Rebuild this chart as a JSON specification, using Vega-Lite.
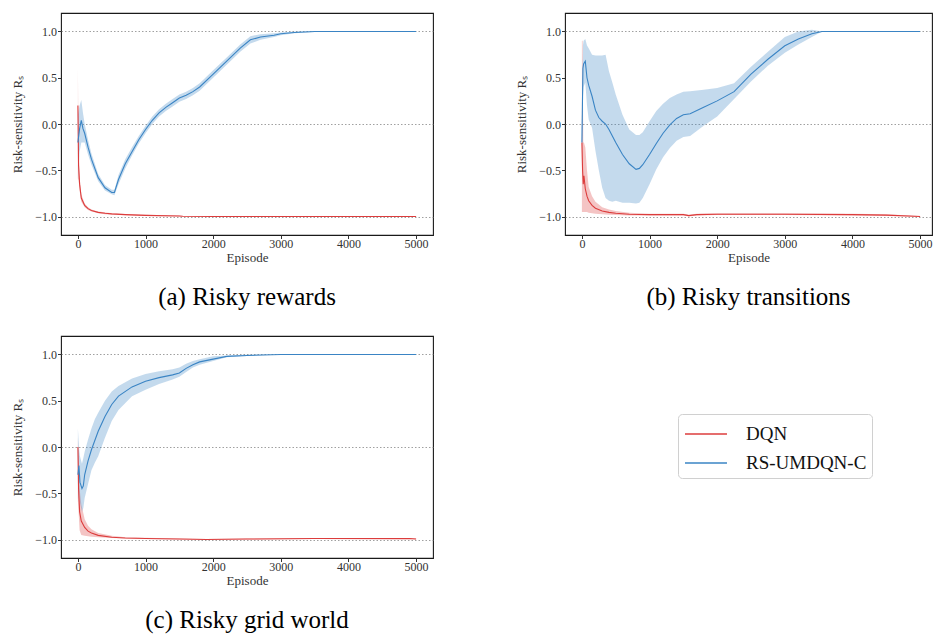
{
  "$schema": "https://vega.github.io/schema/vega-lite/v6.json",
  "padding": {"left": 11, "top": 12, "right": 0, "bottom": 0},
  "background": "white",
  "data": {"values": [
    {"panel":"a","model":"DQN","episode":0,"mean":0.2,"lo":-0.6,"hi":0.6},
    {"panel":"a","model":"DQN","episode":10,"mean":-0.45,"lo":-0.6,"hi":-0.3},
    {"panel":"a","model":"DQN","episode":25,"mean":-0.65,"lo":-0.72,"hi":-0.58},
    {"panel":"a","model":"DQN","episode":50,"mean":-0.8,"lo":-0.84,"hi":-0.76},
    {"panel":"a","model":"DQN","episode":100,"mean":-0.88,"lo":-0.9,"hi":-0.86},
    {"panel":"a","model":"DQN","episode":150,"mean":-0.915,"lo":-0.93,"hi":-0.9},
    {"panel":"a","model":"DQN","episode":200,"mean":-0.935,"lo":-0.945,"hi":-0.925},
    {"panel":"a","model":"DQN","episode":300,"mean":-0.955,"lo":-0.965,"hi":-0.945},
    {"panel":"a","model":"DQN","episode":400,"mean":-0.965,"lo":-0.975,"hi":-0.955},
    {"panel":"a","model":"DQN","episode":500,"mean":-0.972,"lo":-0.98,"hi":-0.964},
    {"panel":"a","model":"DQN","episode":700,"mean":-0.98,"lo":-0.987,"hi":-0.973},
    {"panel":"a","model":"DQN","episode":1000,"mean":-0.988,"lo":-0.994,"hi":-0.982},
    {"panel":"a","model":"DQN","episode":1500,"mean":-0.994,"lo":-0.999,"hi":-0.989},
    {"panel":"a","model":"DQN","episode":1550,"mean":-0.998,"lo":-1.0,"hi":-0.996},
    {"panel":"a","model":"DQN","episode":2000,"mean":-1.0,"lo":-1.0,"hi":-0.998},
    {"panel":"a","model":"DQN","episode":3000,"mean":-1.0,"lo":-1.0,"hi":-0.998},
    {"panel":"a","model":"DQN","episode":4000,"mean":-1.0,"lo":-1.0,"hi":-0.998},
    {"panel":"a","model":"DQN","episode":5000,"mean":-1.0,"lo":-1.0,"hi":-0.998},
    {"panel":"a","model":"RS-UMDQN-C","episode":0,"mean":-0.2,"lo":-0.6,"hi":0.1},
    {"panel":"a","model":"RS-UMDQN-C","episode":25,"mean":-0.05,"lo":-0.3,"hi":0.2},
    {"panel":"a","model":"RS-UMDQN-C","episode":50,"mean":0.04,"lo":-0.2,"hi":0.26},
    {"panel":"a","model":"RS-UMDQN-C","episode":75,"mean":-0.05,"lo":-0.2,"hi":0.12},
    {"panel":"a","model":"RS-UMDQN-C","episode":100,"mean":-0.1,"lo":-0.2,"hi":0.0},
    {"panel":"a","model":"RS-UMDQN-C","episode":150,"mean":-0.25,"lo":-0.33,"hi":-0.17},
    {"panel":"a","model":"RS-UMDQN-C","episode":200,"mean":-0.38,"lo":-0.44,"hi":-0.32},
    {"panel":"a","model":"RS-UMDQN-C","episode":300,"mean":-0.58,"lo":-0.62,"hi":-0.54},
    {"panel":"a","model":"RS-UMDQN-C","episode":400,"mean":-0.69,"lo":-0.72,"hi":-0.66},
    {"panel":"a","model":"RS-UMDQN-C","episode":500,"mean":-0.74,"lo":-0.76,"hi":-0.71},
    {"panel":"a","model":"RS-UMDQN-C","episode":540,"mean":-0.74,"lo":-0.77,"hi":-0.71},
    {"panel":"a","model":"RS-UMDQN-C","episode":600,"mean":-0.6,"lo":-0.65,"hi":-0.55},
    {"panel":"a","model":"RS-UMDQN-C","episode":700,"mean":-0.43,"lo":-0.48,"hi":-0.38},
    {"panel":"a","model":"RS-UMDQN-C","episode":800,"mean":-0.3,"lo":-0.34,"hi":-0.25},
    {"panel":"a","model":"RS-UMDQN-C","episode":900,"mean":-0.17,"lo":-0.21,"hi":-0.13},
    {"panel":"a","model":"RS-UMDQN-C","episode":1000,"mean":-0.06,"lo":-0.1,"hi":-0.02},
    {"panel":"a","model":"RS-UMDQN-C","episode":1100,"mean":0.04,"lo":0.0,"hi":0.08},
    {"panel":"a","model":"RS-UMDQN-C","episode":1200,"mean":0.12,"lo":0.08,"hi":0.16},
    {"panel":"a","model":"RS-UMDQN-C","episode":1300,"mean":0.18,"lo":0.14,"hi":0.22},
    {"panel":"a","model":"RS-UMDQN-C","episode":1400,"mean":0.23,"lo":0.19,"hi":0.27},
    {"panel":"a","model":"RS-UMDQN-C","episode":1500,"mean":0.28,"lo":0.24,"hi":0.32},
    {"panel":"a","model":"RS-UMDQN-C","episode":1600,"mean":0.31,"lo":0.27,"hi":0.35},
    {"panel":"a","model":"RS-UMDQN-C","episode":1700,"mean":0.35,"lo":0.31,"hi":0.39},
    {"panel":"a","model":"RS-UMDQN-C","episode":1800,"mean":0.4,"lo":0.36,"hi":0.44},
    {"panel":"a","model":"RS-UMDQN-C","episode":2000,"mean":0.54,"lo":0.5,"hi":0.58},
    {"panel":"a","model":"RS-UMDQN-C","episode":2200,"mean":0.68,"lo":0.64,"hi":0.72},
    {"panel":"a","model":"RS-UMDQN-C","episode":2400,"mean":0.82,"lo":0.78,"hi":0.86},
    {"panel":"a","model":"RS-UMDQN-C","episode":2550,"mean":0.91,"lo":0.87,"hi":0.95},
    {"panel":"a","model":"RS-UMDQN-C","episode":2700,"mean":0.94,"lo":0.91,"hi":0.97},
    {"panel":"a","model":"RS-UMDQN-C","episode":2900,"mean":0.96,"lo":0.94,"hi":0.98},
    {"panel":"a","model":"RS-UMDQN-C","episode":3000,"mean":0.975,"lo":0.96,"hi":0.99},
    {"panel":"a","model":"RS-UMDQN-C","episode":3200,"mean":0.99,"lo":0.98,"hi":1.0},
    {"panel":"a","model":"RS-UMDQN-C","episode":3500,"mean":1.0,"lo":0.995,"hi":1.0},
    {"panel":"a","model":"RS-UMDQN-C","episode":4000,"mean":1.0,"lo":1.0,"hi":1.0},
    {"panel":"a","model":"RS-UMDQN-C","episode":5000,"mean":1.0,"lo":1.0,"hi":1.0},
    {"panel":"b","model":"DQN","episode":0,"mean":-0.2,"lo":-0.95,"hi":0.9},
    {"panel":"b","model":"DQN","episode":10,"mean":-0.5,"lo":-0.95,"hi":0.9},
    {"panel":"b","model":"DQN","episode":20,"mean":-0.65,"lo":-0.95,"hi":-0.2},
    {"panel":"b","model":"DQN","episode":30,"mean":-0.56,"lo":-0.95,"hi":-0.2},
    {"panel":"b","model":"DQN","episode":50,"mean":-0.7,"lo":-0.95,"hi":-0.25},
    {"panel":"b","model":"DQN","episode":75,"mean":-0.78,"lo":-0.95,"hi":-0.5},
    {"panel":"b","model":"DQN","episode":100,"mean":-0.83,"lo":-0.96,"hi":-0.68},
    {"panel":"b","model":"DQN","episode":150,"mean":-0.88,"lo":-0.965,"hi":-0.78},
    {"panel":"b","model":"DQN","episode":200,"mean":-0.91,"lo":-0.97,"hi":-0.84},
    {"panel":"b","model":"DQN","episode":300,"mean":-0.94,"lo":-0.975,"hi":-0.9},
    {"panel":"b","model":"DQN","episode":400,"mean":-0.955,"lo":-0.98,"hi":-0.925},
    {"panel":"b","model":"DQN","episode":500,"mean":-0.965,"lo":-0.985,"hi":-0.94},
    {"panel":"b","model":"DQN","episode":700,"mean":-0.975,"lo":-0.99,"hi":-0.96},
    {"panel":"b","model":"DQN","episode":1000,"mean":-0.98,"lo":-0.99,"hi":-0.97},
    {"panel":"b","model":"DQN","episode":1500,"mean":-0.98,"lo":-0.99,"hi":-0.97},
    {"panel":"b","model":"DQN","episode":1580,"mean":-0.99,"lo":-1.0,"hi":-0.98},
    {"panel":"b","model":"DQN","episode":1700,"mean":-0.98,"lo":-0.99,"hi":-0.97},
    {"panel":"b","model":"DQN","episode":2000,"mean":-0.975,"lo":-0.985,"hi":-0.965},
    {"panel":"b","model":"DQN","episode":3000,"mean":-0.975,"lo":-0.985,"hi":-0.965},
    {"panel":"b","model":"DQN","episode":4000,"mean":-0.98,"lo":-0.99,"hi":-0.97},
    {"panel":"b","model":"DQN","episode":4500,"mean":-0.985,"lo":-0.995,"hi":-0.975},
    {"panel":"b","model":"DQN","episode":5000,"mean":-1.0,"lo":-1.0,"hi":-0.995},
    {"panel":"b","model":"RS-UMDQN-C","episode":0,"mean":-0.2,"lo":-0.45,"hi":0.05},
    {"panel":"b","model":"RS-UMDQN-C","episode":15,"mean":0.6,"lo":0.3,"hi":0.85},
    {"panel":"b","model":"RS-UMDQN-C","episode":25,"mean":0.65,"lo":0.4,"hi":0.9},
    {"panel":"b","model":"RS-UMDQN-C","episode":50,"mean":0.68,"lo":0.45,"hi":0.92},
    {"panel":"b","model":"RS-UMDQN-C","episode":75,"mean":0.5,"lo":0.2,"hi":0.85},
    {"panel":"b","model":"RS-UMDQN-C","episode":100,"mean":0.42,"lo":0.05,"hi":0.82},
    {"panel":"b","model":"RS-UMDQN-C","episode":150,"mean":0.3,"lo":-0.04,"hi":0.75},
    {"panel":"b","model":"RS-UMDQN-C","episode":200,"mean":0.15,"lo":-0.29,"hi":0.74},
    {"panel":"b","model":"RS-UMDQN-C","episode":250,"mean":0.07,"lo":-0.5,"hi":0.74},
    {"panel":"b","model":"RS-UMDQN-C","episode":300,"mean":0.03,"lo":-0.69,"hi":0.74},
    {"panel":"b","model":"RS-UMDQN-C","episode":350,"mean":0.0,"lo":-0.8,"hi":0.75},
    {"panel":"b","model":"RS-UMDQN-C","episode":400,"mean":-0.06,"lo":-0.83,"hi":0.57},
    {"panel":"b","model":"RS-UMDQN-C","episode":450,"mean":-0.13,"lo":-0.84,"hi":0.45},
    {"panel":"b","model":"RS-UMDQN-C","episode":500,"mean":-0.2,"lo":-0.83,"hi":0.32},
    {"panel":"b","model":"RS-UMDQN-C","episode":600,"mean":-0.33,"lo":-0.85,"hi":0.1},
    {"panel":"b","model":"RS-UMDQN-C","episode":700,"mean":-0.43,"lo":-0.85,"hi":-0.06},
    {"panel":"b","model":"RS-UMDQN-C","episode":800,"mean":-0.49,"lo":-0.86,"hi":-0.12},
    {"panel":"b","model":"RS-UMDQN-C","episode":850,"mean":-0.48,"lo":-0.85,"hi":-0.12},
    {"panel":"b","model":"RS-UMDQN-C","episode":900,"mean":-0.44,"lo":-0.8,"hi":-0.09},
    {"panel":"b","model":"RS-UMDQN-C","episode":1000,"mean":-0.33,"lo":-0.65,"hi":0.03},
    {"panel":"b","model":"RS-UMDQN-C","episode":1100,"mean":-0.21,"lo":-0.49,"hi":0.14},
    {"panel":"b","model":"RS-UMDQN-C","episode":1200,"mean":-0.1,"lo":-0.36,"hi":0.22},
    {"panel":"b","model":"RS-UMDQN-C","episode":1300,"mean":-0.01,"lo":-0.26,"hi":0.28},
    {"panel":"b","model":"RS-UMDQN-C","episode":1400,"mean":0.06,"lo":-0.18,"hi":0.32},
    {"panel":"b","model":"RS-UMDQN-C","episode":1500,"mean":0.1,"lo":-0.14,"hi":0.35},
    {"panel":"b","model":"RS-UMDQN-C","episode":1600,"mean":0.11,"lo":-0.13,"hi":0.355},
    {"panel":"b","model":"RS-UMDQN-C","episode":1800,"mean":0.18,"lo":-0.02,"hi":0.37},
    {"panel":"b","model":"RS-UMDQN-C","episode":2000,"mean":0.25,"lo":0.08,"hi":0.39},
    {"panel":"b","model":"RS-UMDQN-C","episode":2250,"mean":0.35,"lo":0.27,"hi":0.44},
    {"panel":"b","model":"RS-UMDQN-C","episode":2500,"mean":0.54,"lo":0.46,"hi":0.62},
    {"panel":"b","model":"RS-UMDQN-C","episode":2750,"mean":0.7,"lo":0.63,"hi":0.78},
    {"panel":"b","model":"RS-UMDQN-C","episode":3000,"mean":0.845,"lo":0.77,"hi":0.94},
    {"panel":"b","model":"RS-UMDQN-C","episode":3200,"mean":0.92,"lo":0.86,"hi":1.0},
    {"panel":"b","model":"RS-UMDQN-C","episode":3400,"mean":0.975,"lo":0.94,"hi":1.02},
    {"panel":"b","model":"RS-UMDQN-C","episode":3550,"mean":1.0,"lo":1.0,"hi":1.0},
    {"panel":"b","model":"RS-UMDQN-C","episode":4000,"mean":1.0,"lo":1.0,"hi":1.0},
    {"panel":"b","model":"RS-UMDQN-C","episode":5000,"mean":1.0,"lo":1.0,"hi":1.0},
    {"panel":"c","model":"DQN","episode":0,"mean":0.0,"lo":-0.55,"hi":0.1},
    {"panel":"c","model":"DQN","episode":10,"mean":-0.45,"lo":-0.7,"hi":-0.1},
    {"panel":"c","model":"DQN","episode":25,"mean":-0.7,"lo":-0.9,"hi":-0.45},
    {"panel":"c","model":"DQN","episode":50,"mean":-0.8,"lo":-0.95,"hi":-0.62},
    {"panel":"c","model":"DQN","episode":100,"mean":-0.87,"lo":-0.96,"hi":-0.78},
    {"panel":"c","model":"DQN","episode":150,"mean":-0.91,"lo":-0.965,"hi":-0.85},
    {"panel":"c","model":"DQN","episode":200,"mean":-0.93,"lo":-0.97,"hi":-0.89},
    {"panel":"c","model":"DQN","episode":300,"mean":-0.955,"lo":-0.975,"hi":-0.93},
    {"panel":"c","model":"DQN","episode":500,"mean":-0.975,"lo":-0.985,"hi":-0.96},
    {"panel":"c","model":"DQN","episode":700,"mean":-0.983,"lo":-0.99,"hi":-0.975},
    {"panel":"c","model":"DQN","episode":1000,"mean":-0.99,"lo":-0.995,"hi":-0.982},
    {"panel":"c","model":"DQN","episode":1500,"mean":-0.995,"lo":-1.0,"hi":-0.99},
    {"panel":"c","model":"DQN","episode":1900,"mean":-1.0,"lo":-1.0,"hi":-0.995},
    {"panel":"c","model":"DQN","episode":2500,"mean":-0.995,"lo":-1.0,"hi":-0.99},
    {"panel":"c","model":"DQN","episode":3500,"mean":-0.99,"lo":-0.995,"hi":-0.985},
    {"panel":"c","model":"DQN","episode":4900,"mean":-0.99,"lo":-0.995,"hi":-0.985},
    {"panel":"c","model":"DQN","episode":5000,"mean":-0.995,"lo":-1.0,"hi":-0.99},
    {"panel":"c","model":"RS-UMDQN-C","episode":0,"mean":-0.3,"lo":-0.6,"hi":0.2},
    {"panel":"c","model":"RS-UMDQN-C","episode":15,"mean":-0.2,"lo":-0.45,"hi":0.0},
    {"panel":"c","model":"RS-UMDQN-C","episode":30,"mean":-0.38,"lo":-0.6,"hi":-0.1},
    {"panel":"c","model":"RS-UMDQN-C","episode":60,"mean":-0.45,"lo":-0.7,"hi":-0.18},
    {"panel":"c","model":"RS-UMDQN-C","episode":80,"mean":-0.42,"lo":-0.66,"hi":-0.12},
    {"panel":"c","model":"RS-UMDQN-C","episode":100,"mean":-0.3,"lo":-0.55,"hi":-0.05},
    {"panel":"c","model":"RS-UMDQN-C","episode":150,"mean":-0.15,"lo":-0.4,"hi":0.08},
    {"panel":"c","model":"RS-UMDQN-C","episode":200,"mean":-0.03,"lo":-0.25,"hi":0.2},
    {"panel":"c","model":"RS-UMDQN-C","episode":250,"mean":0.07,"lo":-0.17,"hi":0.3},
    {"panel":"c","model":"RS-UMDQN-C","episode":300,"mean":0.17,"lo":-0.1,"hi":0.37},
    {"panel":"c","model":"RS-UMDQN-C","episode":400,"mean":0.33,"lo":0.1,"hi":0.5},
    {"panel":"c","model":"RS-UMDQN-C","episode":500,"mean":0.46,"lo":0.28,"hi":0.6},
    {"panel":"c","model":"RS-UMDQN-C","episode":600,"mean":0.55,"lo":0.4,"hi":0.66},
    {"panel":"c","model":"RS-UMDQN-C","episode":800,"mean":0.65,"lo":0.55,"hi":0.74},
    {"panel":"c","model":"RS-UMDQN-C","episode":1000,"mean":0.71,"lo":0.62,"hi":0.79},
    {"panel":"c","model":"RS-UMDQN-C","episode":1200,"mean":0.75,"lo":0.68,"hi":0.82},
    {"panel":"c","model":"RS-UMDQN-C","episode":1400,"mean":0.78,"lo":0.73,"hi":0.84},
    {"panel":"c","model":"RS-UMDQN-C","episode":1500,"mean":0.8,"lo":0.76,"hi":0.86},
    {"panel":"c","model":"RS-UMDQN-C","episode":1600,"mean":0.85,"lo":0.81,"hi":0.9},
    {"panel":"c","model":"RS-UMDQN-C","episode":1700,"mean":0.89,"lo":0.86,"hi":0.93},
    {"panel":"c","model":"RS-UMDQN-C","episode":1800,"mean":0.92,"lo":0.89,"hi":0.95},
    {"panel":"c","model":"RS-UMDQN-C","episode":2000,"mean":0.95,"lo":0.93,"hi":0.98},
    {"panel":"c","model":"RS-UMDQN-C","episode":2200,"mean":0.98,"lo":0.97,"hi":0.99},
    {"panel":"c","model":"RS-UMDQN-C","episode":2500,"mean":0.99,"lo":0.985,"hi":1.0},
    {"panel":"c","model":"RS-UMDQN-C","episode":3000,"mean":1.0,"lo":1.0,"hi":1.0},
    {"panel":"c","model":"RS-UMDQN-C","episode":5000,"mean":1.0,"lo":1.0,"hi":1.0}
  ]},
  "columns": 2,
  "spacing": {"row": 24, "column": 81},
  "concat": [
    {
      "title": "(a) Risky rewards",
      "width": 372, "height": 222,
      "transform": [{"filter": "datum.panel == 'a'"}],
      "encoding": {
        "x": {"field": "episode", "type": "quantitative", "title": "Episode",
              "scale": {"domain": [-250, 5250], "nice": false, "zero": false},
              "axis": {"values": [0,1000,2000,3000,4000,5000], "grid": false, "format": "d", "titlePadding": 2, "labelPadding": 0}},
        "y": {"type": "quantitative"}
      },
      "layer": [
        {"mark": {"type": "area", "opacity": 0.3},
         "encoding": {
           "y": {"field": "lo", "type": "quantitative", "title": "Risk-sensitivity Rₛ",
                 "scale": {"domain": [-1.2, 1.2], "nice": false, "zero": false},
                 "axis": {"values": [-1,-0.5,0,0.5,1], "format": ".1f", "grid": true, "gridColor": "#888", "gridDash": [1.5, 2], "gridWidth": 0.8,
                          "gridOpacity": {"condition": {"test": "abs(datum.value) == 0.5", "value": 0}, "value": 1}, "titlePadding": 10}},
           "y2": {"field": "hi"},
           "color": {"field": "model", "type": "nominal", "title": null, "scale": {"domain": ["DQN", "RS-UMDQN-C"], "range": ["#dc3c3c", "#3a84c4"]}}
         }},
        {"mark": {"type": "line", "strokeWidth": 1.1},
         "encoding": {
           "y": {"field": "mean", "type": "quantitative"},
           "color": {"field": "model", "type": "nominal", "title": null}
         }}
      ]
    },
    {
      "title": "(b) Risky transitions",
      "width": 367, "height": 222,
      "transform": [{"filter": "datum.panel == 'b'"}],
      "encoding": {
        "x": {"field": "episode", "type": "quantitative", "title": "Episode",
              "scale": {"domain": [-250, 5176], "nice": false, "zero": false},
              "axis": {"values": [0,1000,2000,3000,4000,5000], "grid": false, "format": "d", "titlePadding": 2, "labelPadding": 0}},
        "y": {"type": "quantitative"}
      },
      "layer": [
        {"mark": {"type": "area", "opacity": 0.3},
         "encoding": {
           "y": {"field": "lo", "type": "quantitative", "title": "Risk-sensitivity Rₛ",
                 "scale": {"domain": [-1.2, 1.2], "nice": false, "zero": false},
                 "axis": {"values": [-1,-0.5,0,0.5,1], "format": ".1f", "grid": true, "gridColor": "#888", "gridDash": [1.5, 2], "gridWidth": 0.8,
                          "gridOpacity": {"condition": {"test": "abs(datum.value) == 0.5", "value": 0}, "value": 1}, "titlePadding": 10}},
           "y2": {"field": "hi"},
           "color": {"field": "model", "type": "nominal", "title": null}
         }},
        {"mark": {"type": "line", "strokeWidth": 1.1},
         "encoding": {
           "y": {"field": "mean", "type": "quantitative"},
           "color": {"field": "model", "type": "nominal", "title": null}
         }}
      ]
    },
    {
      "title": "(c) Risky grid world",
      "width": 372, "height": 222,
      "transform": [{"filter": "datum.panel == 'c'"}],
      "encoding": {
        "x": {"field": "episode", "type": "quantitative", "title": "Episode",
              "scale": {"domain": [-250, 5250], "nice": false, "zero": false},
              "axis": {"values": [0,1000,2000,3000,4000,5000], "grid": false, "format": "d", "titlePadding": 2, "labelPadding": 0}},
        "y": {"type": "quantitative"}
      },
      "layer": [
        {"mark": {"type": "area", "opacity": 0.3},
         "encoding": {
           "y": {"field": "lo", "type": "quantitative", "title": "Risk-sensitivity Rₛ",
                 "scale": {"domain": [-1.2, 1.2], "nice": false, "zero": false},
                 "axis": {"values": [-1,-0.5,0,0.5,1], "format": ".1f", "grid": true, "gridColor": "#888", "gridDash": [1.5, 2], "gridWidth": 0.8,
                          "gridOpacity": {"condition": {"test": "abs(datum.value) == 0.5", "value": 0}, "value": 1}, "titlePadding": 10}},
           "y2": {"field": "hi"},
           "color": {"field": "model", "type": "nominal", "title": null}
         }},
        {"mark": {"type": "line", "strokeWidth": 1.1},
         "encoding": {
           "y": {"field": "mean", "type": "quantitative"},
           "color": {"field": "model", "type": "nominal", "title": null}
         }}
      ]
    }
  ],
  "resolve": {"scale": {"color": "shared"}, "legend": {"color": "shared"}},
  "config": {
    "view": {"stroke": "#1a1a1a", "strokeWidth": 1.1},
    "font": "Liberation Serif",
    "axis": {
      "labelFont": "Liberation Serif", "titleFont": "Liberation Serif",
      "labelFontSize": 12, "titleFontSize": 13, "titleFontWeight": "normal",
      "labelColor": "#333", "titleColor": "#333", "tickColor": "#333",
      "tickSize": 3.5, "labelPadding": 1, "domain": false
    },
    "title": {"font": "Liberation Serif", "fontSize": 25, "fontWeight": "normal", "color": "#000", "orient": "bottom", "offset": 20},
    "legend": {"labelFont": "Liberation Serif", "orient": "none", "legendX": 617, "legendY": 401,
               "symbolType": "M-0.93,0H2.07", "symbolSize": 784, "symbolStrokeWidth": 1.6, "symbolOpacity": 1,
               "labelFontSize": 19, "labelOffset": 33, "labelColor": "#111",
               "padding": 5, "rowPadding": 4, "strokeColor": "#d0d0d0", "fillColor": "white", "cornerRadius": 4}
  }
}
